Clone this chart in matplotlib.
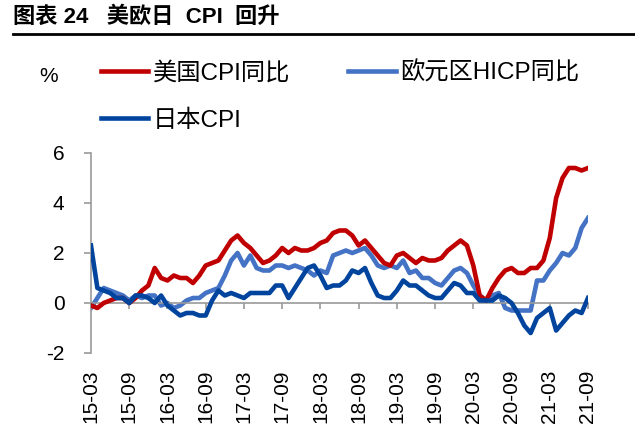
import matplotlib
matplotlib.use("Agg")
import matplotlib.pyplot as plt
from matplotlib.lines import Line2D

plt.rcParams['font.family'] = ['Liberation Sans', 'Noto Sans CJK SC']
plt.rcParams['axes.unicode_minus'] = False

# monthly, 2015-03 .. 2021-09
us_cpi = [-0.1, -0.2, 0.0, 0.1, 0.2, 0.2, 0.0, 0.2, 0.5, 0.7,
          1.4, 1.0, 0.9, 1.1, 1.0, 1.0, 0.8, 1.1, 1.5, 1.6, 1.7, 2.1,
          2.5, 2.7, 2.4, 2.2, 1.9, 1.6, 1.7, 1.9, 2.2, 2.0, 2.2, 2.1,
          2.1, 2.2, 2.4, 2.5, 2.8, 2.9, 2.9, 2.7, 2.3, 2.5, 2.2, 1.9,
          1.6, 1.5, 1.9, 2.0, 1.8, 1.6, 1.8, 1.7, 1.7, 1.8, 2.1, 2.3,
          2.5, 2.3, 1.5, 0.3, 0.1, 0.6, 1.0, 1.3, 1.4, 1.2, 1.2, 1.4,
          1.4, 1.7, 2.6, 4.2, 5.0, 5.4, 5.4, 5.3, 5.4]
ez_hicp = [-0.2, 0.2, 0.6, 0.5, 0.4, 0.3, 0.1, 0.3, 0.2, 0.3,
           0.3, -0.1, 0.0, -0.2, -0.1, 0.1, 0.2, 0.2, 0.4, 0.5, 0.6, 1.1,
           1.7, 2.0, 1.5, 1.9, 1.4, 1.3, 1.3, 1.5, 1.5, 1.4, 1.5, 1.4,
           1.3, 1.1, 1.3, 1.2, 1.9, 2.0, 2.1, 2.0, 2.1, 2.2, 1.9, 1.5,
           1.4, 1.5, 1.4, 1.7, 1.2, 1.3, 1.0, 1.0, 0.8, 0.7, 1.0, 1.3,
           1.4, 1.2, 0.7, 0.3, 0.1, 0.3, 0.4, -0.2, -0.3, -0.3, -0.3, -0.3,
           0.9, 0.9, 1.3, 1.6, 2.0, 1.9, 2.2, 3.0, 3.4]
jp_cpi = [2.3, 0.6, 0.5, 0.4, 0.2, 0.2, 0.0, 0.3, 0.3, 0.2,
          0.0, 0.3, -0.1, -0.3, -0.5, -0.4, -0.4, -0.5, -0.5, 0.1, 0.5, 0.3,
          0.4, 0.3, 0.2, 0.4, 0.4, 0.4, 0.4, 0.7, 0.7, 0.2, 0.6, 1.0,
          1.4, 1.5, 1.1, 0.6, 0.7, 0.7, 0.9, 1.3, 1.2, 1.4, 0.8, 0.3,
          0.2, 0.2, 0.5, 0.9, 0.7, 0.7, 0.5, 0.3, 0.2, 0.2, 0.5, 0.8,
          0.7, 0.4, 0.4, 0.1, 0.1, 0.1, 0.3, 0.2, 0.0, -0.4, -0.9, -1.2,
          -0.6, -0.4, -0.2, -1.1, -0.8, -0.5, -0.3, -0.4, 0.2]
tick_labels = ['15-03', '15-09', '16-03', '16-09', '17-03', '17-09', '18-03',
               '18-09', '19-03', '19-09', '20-03', '20-09', '21-03', '21-09']

x = list(range(len(us_cpi)))
tick_pos = x[::6]
gray = '#9a9a9a'

fig = plt.figure(figsize=(6.35, 4.37), dpi=100)
ax = fig.add_axes([91/635, 1 - 353/437, 497/635, 200/437])

l_us, = ax.plot(x, us_cpi, color='#C00000', lw=3.3, label='美国CPI同比', zorder=3)
l_ez, = ax.plot(x, ez_hicp, color='#4472C4', lw=3.3, label='欧元区HICP同比', zorder=2)
l_jp, = ax.plot(x, jp_cpi, color='#00449E', lw=3.3, label='日本CPI', zorder=4)

ax.set_xlim(0, len(x) - 1)
ax.set_ylim(-2, 6)
ax.set_yticks([-2, 0, 2, 4, 6])

for s in ['top', 'right']:
    ax.spines[s].set_visible(False)
ax.spines['left'].set_color(gray)
ax.spines['left'].set_linewidth(1.2)
ax.spines['bottom'].set_position(('data', 0))
ax.spines['bottom'].set_color(gray)
ax.spines['bottom'].set_linewidth(1.2)

ax.tick_params(axis='y', direction='out', length=5, width=1.2, color=gray,
               labelsize=15, pad=14)
ax.set_xticks(tick_pos)
ax.tick_params(axis='x', direction='out', length=4.5, width=1.2, color=gray,
               labelbottom=False)

sec = ax.secondary_xaxis('bottom')
sec.set_xticks(tick_pos, labels=tick_labels, rotation=90)
sec.tick_params(length=0, pad=12, labelsize=15)
sec.spines['bottom'].set_visible(False)

fig.text(49/635, 1 - 77/437, '%', fontsize=15, ha='center', va='center')

fig.legend(handles=[l_us, l_jp, l_ez], ncol=2, loc='upper left',
           bbox_to_anchor=(101/635, 1 - 61/437), frameon=False, fontsize=17.5,
           handlelength=1.95, handletextpad=0.18, columnspacing=2.4,
           labelspacing=1.05, borderpad=0, borderaxespad=0)

fig.text(13/635, 1 - 17/437, '图表 24   美欧日  CPI  回升', fontsize=16,
         fontweight='bold', ha='left', va='center')
fig.add_artist(Line2D([13/635, 1], [1 - 34/437] * 2, color='black', lw=2))

fig.savefig('out.png', dpi=100)
